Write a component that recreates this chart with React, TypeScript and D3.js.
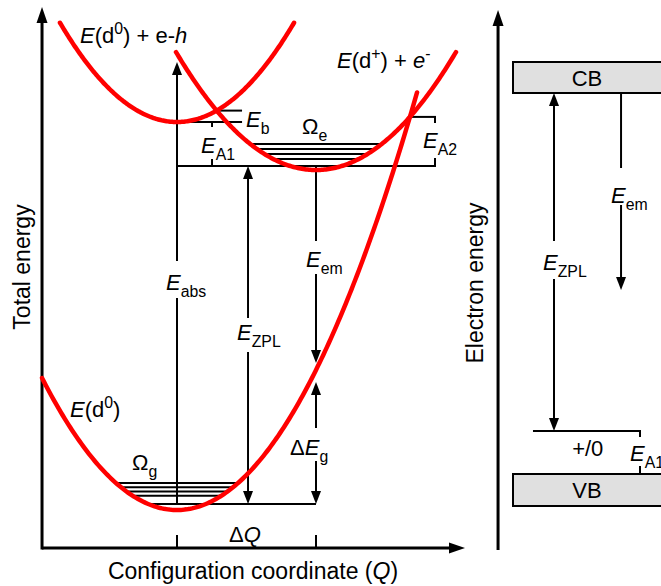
import React from 'react';
import * as d3 from 'd3';

const W = 661;
const H = 586;
const FONT = '"Liberation Sans", Arial, Helvetica, sans-serif';
const RED = '#ff0000';

// ---------- Left panel: configuration coordinate diagram ----------
// Q: 0 = ground-state minimum, 1 = excited-state minimum; energy in arbitrary units
const qAxisExtent = [-0.971, 2.072];
const eAxisExtent = [-0.38, 5.03];
const qTicks = [0, 1];

// parabolas E = e0 + k (Q - q0)^2
const curveNames = ['E(d0)', 'E(d0)+e-h', 'E(d+)+e-'];
const curveMinQ = [0, 0, 1];
const curveMinE = [0, 3.88, 3.4];
const curveK = [1.4, 1.4, 1.163];
const curveSpanFrom = [-0.971, -0.842, -0.007];
const curveSpanTo = [1.727, 0.842, 2.007];

// vibrational levels
const groundZPL = 0.06;
const groundLevels = [0.142, 0.185, 0.227, 0.27];
const excitedZPL = 3.44;
const excitedLevels = [3.51, 3.56, 3.61, 3.66];

// other markers
const absTopE = 4.48;
const zplQ = 0.511;
const ebRightQ = 0.468;
const ea1Q = 0.252;
const ea2Q = 1.856;
const emTipE = 1.47;
const dEgTipE = 1.28;

// ---------- Right panel: electron energy levels ----------
const vbBand = [-0.32, 0];
const cbBand = [3.81, 4.12];
const acceptorLevel = 0.43;
const emEndE = 1.84;
const rightAxisExtent = [-0.76, 4.64];

const x = d3.scaleLinear().domain([0, 1]).range([177, 316]);
const y = d3.scaleLinear().domain([0, 1]).range([510, 410]);
const xR = d3.scaleLinear().domain([0, 1]).range([513, 661]);
const yR = d3.scaleLinear().domain([0, 1]).range([474, 374]);

const parabola = (i: number) => (q: number) => curveMinE[i] + curveK[i] * (q - curveMinQ[i]) ** 2;
const halfWidth = (i: number, e: number) => Math.sqrt(Math.max(0, (e - curveMinE[i]) / curveK[i]));

// crossing of two parabolas (i, j), root nearest to guess
function crossing(i: number, j: number, guess: number) {
  const a = curveK[i] - curveK[j];
  const b = -2 * curveK[i] * curveMinQ[i] + 2 * curveK[j] * curveMinQ[j];
  const c = curveMinE[i] + curveK[i] * curveMinQ[i] ** 2 - curveMinE[j] - curveK[j] * curveMinQ[j] ** 2;
  let roots: number[];
  if (Math.abs(a) < 1e-9) roots = [-c / b];
  else {
    const d = Math.sqrt(b * b - 4 * a * c);
    roots = [(-b + d) / (2 * a), (-b - d) / (2 * a)];
  }
  const q = roots.reduce((p, r) => (Math.abs(r - guess) < Math.abs(p - guess) ? r : p));
  return { q, e: parabola(i)(q) };
}

type Part = { t: string; i?: boolean; sub?: boolean; sup?: boolean };
function Rich({ px, py, parts, size = 22, anchor = 'start' }: { px: number; py: number; parts: Part[]; size?: number; anchor?: string }) {
  let cur = 0;
  return (
    <text x={px} y={py} fontSize={size} textAnchor={anchor} fontFamily={FONT} fill="#000">
      {parts.map((p, k) => {
        const target = p.sub ? size * 0.33 : p.sup ? -size * 0.42 : 0;
        const dy = target - cur;
        cur = target;
        return (
          <tspan key={k} dy={dy} fontStyle={p.i ? 'italic' : 'normal'} fontSize={p.sub || p.sup ? size * 0.72 : size}>
            {p.t}
          </tspan>
        );
      })}
    </text>
  );
}

function VArrow({ px, from, to, gap, headFrom, headTo, sw = 2, hl = 13, hw = 5 }: any) {
  const s = Math.sign(to - from);
  const a = headFrom ? from + s * (hl - 2) : from;
  const b = headTo ? to - s * (hl - 2) : to;
  let segs: number[][] = [[a, b]];
  if (gap) {
    const lo = Math.min(gap[0], gap[1]);
    const hi = Math.max(gap[0], gap[1]);
    segs = s > 0 ? [[a, lo], [hi, b]] : [[a, hi], [lo, b]];
  }
  const head = (tip: number, dir: number) =>
    `M${px},${tip}L${px - hw},${tip + dir * hl}L${px + hw},${tip + dir * hl}Z`;
  return (
    <g>
      {segs.map((sg, k) => (
        <line key={k} x1={px} x2={px} y1={sg[0]} y2={sg[1]} stroke="#000" strokeWidth={sw} />
      ))}
      {headFrom && <path d={head(from, s)} fill="#000" />}
      {headTo && <path d={head(to, -s)} fill="#000" />}
    </g>
  );
}

export default function App() {
  const line = d3
    .line<number>()
    .x((q) => x(q))
    .curve(d3.curveLinear);

  const curves = curveNames.map((_, i) => {
    const f = parabola(i);
    const qs = d3.range(0, 201).map((k) => curveSpanFrom[i] + ((curveSpanTo[i] - curveSpanFrom[i]) * k) / 200);
    return line.y((q) => y(f(q)))(qs) as string;
  });

  const crossEx = crossing(0, 2, 1.7); // ground & excited
  const crossEb = crossing(1, 2, 0.3); // e-h & excited

  const x0 = x(qAxisExtent[0]);
  const yAxisBottom = y(eAxisExtent[0]);
  const levelLine = (i: number, e: number, key: string) => {
    const hwq = halfWidth(i, e);
    return (
      <line key={key} x1={x(curveMinQ[i] - hwq)} x2={x(curveMinQ[i] + hwq)} y1={y(e)} y2={y(e)} stroke="#000" strokeWidth={2} />
    );
  };

  const gq = curveMinQ[0] - halfWidth(0, groundZPL);

  return (
    <svg width={W} height={H} style={{ position: 'absolute', left: 0, top: 0, background: '#fff' }} fontFamily={FONT}>
      <rect width={W} height={H} fill="#fff" />
      {/* ---- left axes ---- */}
      <line x1={x0} x2={x0} y1={yAxisBottom + 1.5} y2={y(eAxisExtent[1]) + 12} stroke="#000" strokeWidth={3} />
      <path d={`M${x0},${y(eAxisExtent[1])}L${x0 - 5.5},${y(eAxisExtent[1]) + 16}L${x0 + 5.5},${y(eAxisExtent[1]) + 16}Z`} fill="#000" />
      <line x1={x0} x2={x(qAxisExtent[1]) - 12} y1={yAxisBottom} y2={yAxisBottom} stroke="#000" strokeWidth={3} />
      <path d={`M${x(qAxisExtent[1])},${yAxisBottom}L${x(qAxisExtent[1]) - 16},${yAxisBottom - 5.5}L${x(qAxisExtent[1]) - 16},${yAxisBottom + 5.5}Z`} fill="#000" />
      {qTicks.map((q) => (
        <line key={q} x1={x(q)} x2={x(q)} y1={yAxisBottom - 13} y2={yAxisBottom} stroke="#000" strokeWidth={2} />
      ))}

      {/* ---- vibrational levels ---- */}
      {groundLevels.map((e, k) => levelLine(0, e, 'g' + k))}
      {excitedLevels.map((e, k) => levelLine(2, e, 'e' + k))}
      <line x1={x(gq)} x2={x(1)} y1={y(groundZPL)} y2={y(groundZPL)} stroke="#000" strokeWidth={2} />
      <line x1={x(0)} x2={x(ea2Q)} y1={y(excitedZPL)} y2={y(excitedZPL)} stroke="#000" strokeWidth={2} />

      {/* E_b lines */}
      <line x1={x(0)} x2={x(ebRightQ)} y1={y(curveMinE[1])} y2={y(curveMinE[1])} stroke="#000" strokeWidth={2} />
      <line x1={x(crossEb.q)} x2={x(ebRightQ)} y1={y(crossEb.e)} y2={y(crossEb.e)} stroke="#000" strokeWidth={2} />
      {/* E_A1 tick */}
      <VArrow px={x(ea1Q)} from={y(curveMinE[1])} to={y(excitedZPL)} gap={[y(3.83), y(3.51)]} />
      {/* E_A2 bracket */}
      <line x1={x(crossEx.q)} x2={x(ea2Q) + 1} y1={y(crossEx.e)} y2={y(crossEx.e)} stroke="#000" strokeWidth={2} />
      <VArrow px={x(ea2Q)} from={y(crossEx.e)} to={y(excitedZPL) + 1} gap={[y(3.87), y(3.52)]} />

      {/* transitions */}
      <VArrow px={x(0)} from={y(groundZPL)} to={y(absTopE)} gap={[y(2.49), y(2.12)]} headTo />
      <VArrow px={x(zplQ)} from={y(groundZPL)} to={y(excitedZPL)} gap={[y(1.92), y(1.58)]} headFrom headTo />
      <VArrow px={x(1)} from={y(excitedZPL)} to={y(emTipE)} gap={[y(2.69), y(2.36)]} headTo />
      <VArrow px={x(1)} from={y(groundZPL)} to={y(dEgTipE)} gap={[y(0.82), y(0.49)]} headFrom headTo />

      {/* ---- curves ---- */}
      {curves.map((d, i) => (
        <path key={i} d={d} fill="none" stroke={RED} strokeWidth={4.5} strokeLinecap="round" />
      ))}

      {/* ---- left labels ---- */}
      <Rich px={80} py={43} parts={[{ t: 'E', i: true }, { t: '(d' }, { t: '0', sup: true }, { t: ') + e-' }, { t: 'h', i: true }]} />
      <Rich px={337} py={68} parts={[{ t: 'E', i: true }, { t: '(d' }, { t: '+', sup: true }, { t: ') + ' }, { t: 'e', i: true }, { t: '-', sup: true }]} />
      <Rich px={70} py={417} parts={[{ t: 'E', i: true }, { t: '(d' }, { t: '0', sup: true }, { t: ')' }]} />
      <Rich px={132} py={470} parts={[{ t: 'Ω' }, { t: 'g', sub: true }]} />
      <Rich px={302} py={134} parts={[{ t: 'Ω' }, { t: 'e', sub: true }]} />
      <Rich px={246} py={127} parts={[{ t: 'E', i: true }, { t: 'b', sub: true }]} />
      <Rich px={201} py={153} parts={[{ t: 'E', i: true }, { t: 'A1', sub: true }]} />
      <Rich px={423} py={148} parts={[{ t: 'E', i: true }, { t: 'A2', sub: true }]} />
      <Rich px={166} py={290} parts={[{ t: 'E', i: true }, { t: 'abs', sub: true }]} />
      <Rich px={237} py={340} parts={[{ t: 'E', i: true }, { t: 'ZPL', sub: true }]} />
      <Rich px={306} py={267} parts={[{ t: 'E', i: true }, { t: 'em', sub: true }]} />
      <Rich px={290} py={455} parts={[{ t: 'Δ' }, { t: 'E', i: true }, { t: 'g', sub: true }]} />
      <Rich px={245} py={542} anchor="middle" parts={[{ t: 'Δ' }, { t: 'Q', i: true }]} />
      <Rich px={253} py={579} size={23} anchor="middle" parts={[{ t: 'Configuration coordinate (' }, { t: 'Q', i: true }, { t: ')' }]} />
      <g transform={`translate(30,267) rotate(-90)`}>
        <text textAnchor="middle" fontSize={23} fontFamily={FONT}>Total energy</text>
      </g>

      {/* ---- right panel ---- */}
      <line x1={xR(-0.101)} x2={xR(-0.101)} y1={yR(rightAxisExtent[0])} y2={yR(rightAxisExtent[1]) + 12} stroke="#000" strokeWidth={3} />
      <path d={`M${xR(-0.101)},${yR(rightAxisExtent[1])}L${xR(-0.101) - 5.5},${yR(rightAxisExtent[1]) + 16}L${xR(-0.101) + 5.5},${yR(rightAxisExtent[1]) + 16}Z`} fill="#000" />
      <g transform={`translate(483,283) rotate(-90)`}>
        <text textAnchor="middle" fontSize={23} fontFamily={FONT}>Electron energy</text>
      </g>

      <rect x={xR(0)} y={yR(cbBand[1])} width={xR(1.1) - xR(0)} height={yR(cbBand[0]) - yR(cbBand[1])} fill="#e0e0e0" stroke="#000" strokeWidth={2} />
      <rect x={xR(0)} y={yR(vbBand[1])} width={xR(1.1) - xR(0)} height={yR(vbBand[0]) - yR(vbBand[1])} fill="#e0e0e0" stroke="#000" strokeWidth={2} />
      <text x={xR(0.5)} y={yR((cbBand[0] + cbBand[1]) / 2) + 8} textAnchor="middle" fontSize={22} fontFamily={FONT}>CB</text>
      <text x={xR(0.5)} y={yR((vbBand[0] + vbBand[1]) / 2) + 8} textAnchor="middle" fontSize={22} fontFamily={FONT}>VB</text>

      <line x1={xR(0.135)} x2={xR(0.858) + 1} y1={yR(acceptorLevel)} y2={yR(acceptorLevel)} stroke="#000" strokeWidth={2} />
      <text x={xR(0.505)} y={yR(acceptorLevel) + 25} textAnchor="middle" fontSize={22} fontFamily={FONT}>+/0</text>
      <VArrow px={xR(0.858)} from={yR(acceptorLevel)} to={yR(vbBand[1])} gap={[yR(0.37), yR(0.08)]} />
      <Rich px={630} py={461} parts={[{ t: 'E', i: true }, { t: 'A1', sub: true }]} />

      <VArrow px={xR(0.277)} from={yR(acceptorLevel)} to={yR(cbBand[0])} gap={[yR(2.33), yR(1.95)]} headFrom headTo />
      <Rich px={543} py={270} parts={[{ t: 'E', i: true }, { t: 'ZPL', sub: true }]} />
      <VArrow px={xR(0.73)} from={yR(cbBand[0])} to={yR(emEndE)} gap={[yR(3.06), yR(2.69)]} headTo />
      <Rich px={611} py={203} parts={[{ t: 'E', i: true }, { t: 'em', sub: true }]} />
    </svg>
  );
}
